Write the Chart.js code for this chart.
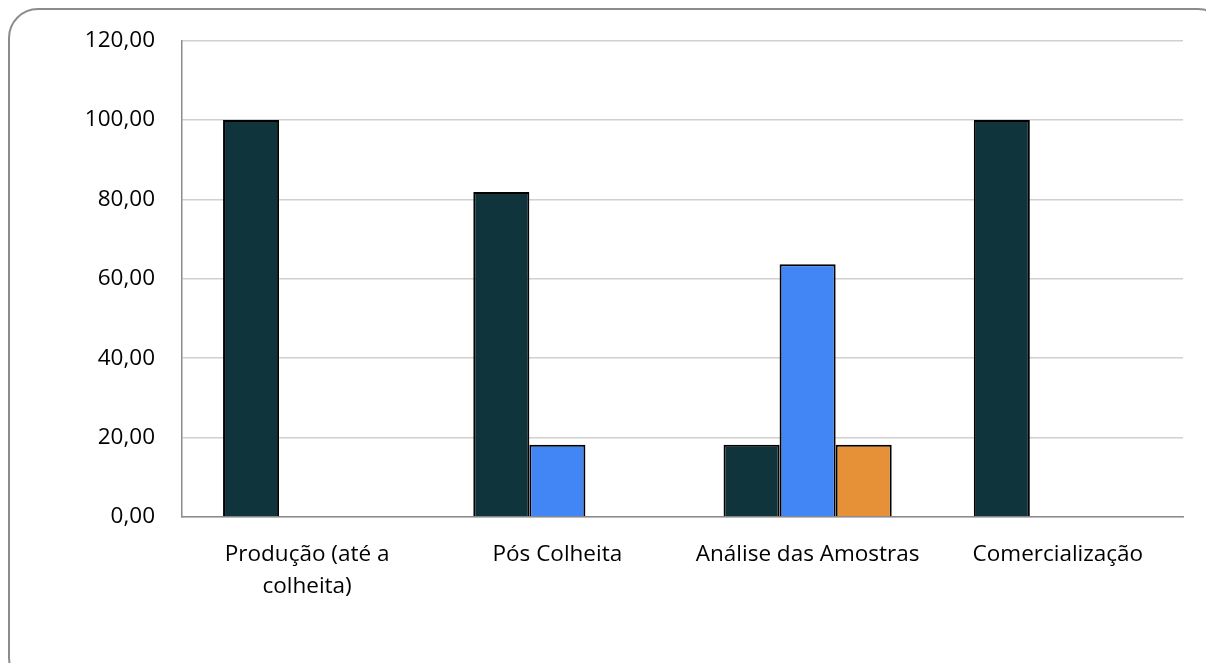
<!DOCTYPE html>
<html>
<head>
<meta charset="utf-8">
<script src="https://cdn.jsdelivr.net/npm/chart.js@4.4.1/dist/chart.umd.min.js"></script>
<style>
    html, body {margin: 0; padding: 0; background: #fff; overflow: hidden;}
    .frame {position: absolute; left: 8px; top: 8px; width: 1220px; height: 680px; border: 2px solid #8c8c8c; border-radius: 30px; box-sizing: border-box;}
    .chartBox {position: absolute; left: 0; top: 0; width: 1206px; height: 663px;}
</style>
</head>
<body>
<div class="frame"></div>
<div class="chartBox"><canvas id="etapasChart" width="1206" height="663"></canvas></div>
<script>
    const categories = [['Produção (até a', 'colheita)'], 'Pós Colheita', 'Análise das Amostras', 'Comercialização'];
    const serie1 = [100, 81.82, 18.18, 100];
    const serie2 = [null, 18.18, 63.64, null];
    const serie3 = [null, null, 18.18, null];
    const yTicks = [0, 20, 40, 60, 80, 100, 120];

    const fmt = v => v.toFixed(2).replace('.', ',');

    let ctx = document.getElementById('etapasChart');
    new Chart(ctx, {
        type: 'bar',
        data: {
            labels: categories,
            datasets: [
                {data: serie1, backgroundColor: '#10343c', borderColor: '#000', borderWidth: 2},
                {data: serie2, backgroundColor: '#4285f4', borderColor: '#000', borderWidth: 2},
                {data: serie3, backgroundColor: '#e69138', borderColor: '#000', borderWidth: 2}
            ]
        },
        options: {
            responsive: false,
            animation: false,
            layout: {padding: {left: 0, right: 23, top: 39, bottom: 0}},
            datasets: {bar: {barPercentage: 1, categoryPercentage: 0.672}},
            scales: {
                x: {
                    grid: {display: false, drawTicks: false},
                    border: {color: '#8c8c8c', width: 1.5},
                    ticks: {color: '#000', padding: 21, maxRotation: 0, autoSkip: false,
                        font: {family: 'Open Sans', size: 22.5, lineHeight: 1.45}},
                    afterFit: scale => { scale.height = 146; }
                },
                y: {
                    min: 0, max: 120,
                    afterBuildTicks: scale => { scale.ticks = yTicks.map(v => ({value: v})); },
                    grid: {color: '#d0d0d0', lineWidth: 1.5, drawTicks: false},
                    border: {color: '#8c8c8c', width: 1.5},
                    ticks: {color: '#000', padding: 27, callback: v => fmt(v),
                        font: {family: 'Open Sans', size: 22.5}},
                    afterFit: scale => { scale.width = 182; }
                }
            },
            plugins: {
                legend: {display: false},
                title: {display: false},
                tooltip: {enabled: false}
            }
        }
    });
</script>
</body>
</html>
